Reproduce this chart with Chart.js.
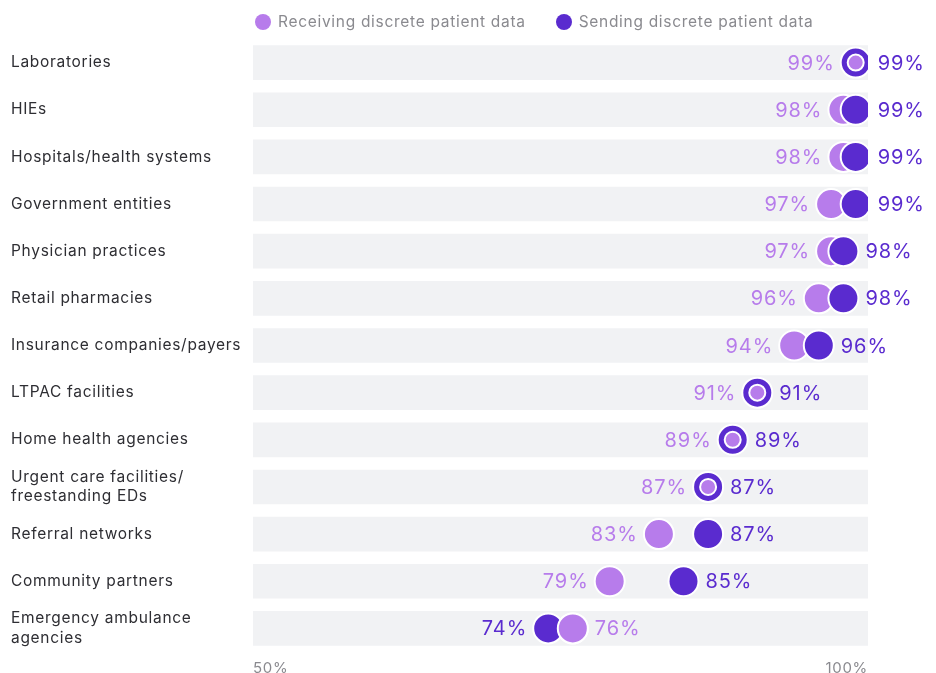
<!DOCTYPE html>
<html>
<head>
<meta charset="utf-8">
<script src="https://cdn.jsdelivr.net/npm/chart.js@4/dist/chart.umd.min.js"></script>
<style>
  body { margin: 0; background: #fff; font-family: Inter, sans-serif; }
  #wrap { position: relative; width: 936px; height: 673px; }
  #legend { position: absolute; top: 12px; left: 255px; display: flex; gap: 30px; font-size: 15.5px; letter-spacing: 0.7px; color: #8a8a8f; }
  #legend span { display: flex; align-items: center; }
  #legend i { width: 16px; height: 16px; border-radius: 50%; display: inline-block; margin-right: 7px; }
</style>
</head>
<body>
<div id="wrap">
  <canvas id="chart"></canvas>
  <div id="legend"></div>
</div>
<script>
// Share of organisations exchanging discrete patient data, by partner type
const categories = [
  'Laboratories',
  'HIEs',
  'Hospitals/health systems',
  'Government entities',
  'Physician practices',
  'Retail pharmacies',
  'Insurance companies/payers',
  'LTPAC facilities',
  'Home health agencies',
  ['Urgent care facilities/', 'freestanding EDs'],
  'Referral networks',
  'Community partners',
  ['Emergency ambulance', 'agencies']
]
const receiving = [99, 98, 98, 97, 97, 96, 94, 91, 89, 87, 83, 79, 76]
const sending = [99, 99, 99, 99, 98, 98, 96, 91, 89, 87, 87, 85, 74]
const axisMin = 50
const axisMax = 100

const LIGHT = '#b77ceb'
const DARK = '#5a2bcf'
const FONT = 'Inter, sans-serif'

// HTML legend
const legend = document.getElementById('legend')
;[['Receiving discrete patient data', LIGHT], ['Sending discrete patient data', DARK]].forEach(([text, color]) => {
  const s = document.createElement('span')
  s.innerHTML = `<i style="background:${color}"></i>${text}`
  legend.appendChild(s)
})

// a little tracking on all canvas text
const tracking = {
  id: 'tracking',
  beforeDraw(chart) {
    chart.ctx.letterSpacing = '0.7px'
  }
}

// Value labels and draw-order fix for overlapping circles
const valueLabels = {
  id: 'valueLabels',
  afterDatasetsDraw(chart) {
    const ctx = chart.ctx
    const x = chart.scales.x
    const recMeta = chart.getDatasetMeta(1)
    ctx.save()
    // when receiving sits at or right of sending, put it on top
    receiving.forEach((r, i) => {
      if (r >= sending[i]) recMeta.data[i].draw(ctx)
    })
    ctx.font = `400 20px ${FONT}`
    ctx.letterSpacing = '0.9px'
    ctx.textBaseline = 'middle'
    categories.forEach((c, i) => {
      const y = recMeta.data[i].y
      const r = receiving[i], s = sending[i]
      const left = Math.min(r, s), right = Math.max(r, s)
      const leftIsRec = r <= s
      const lx = x.getPixelForValue(left) - 15 - 6
      const rx = x.getPixelForValue(right) + 15 + 7
      ctx.textAlign = 'right'
      ctx.fillStyle = leftIsRec ? LIGHT : DARK
      ctx.fillText((leftIsRec ? r : s) + '%', lx, y + 1)
      ctx.textAlign = 'left'
      ctx.fillStyle = leftIsRec ? DARK : LIGHT
      ctx.fillText((leftIsRec ? s : r) + '%', rx, y + 1)
    })
    ctx.restore()
  }
}

new Chart(document.getElementById('chart'), {
  type: 'bar',
  data: {
    labels: categories,
    datasets: [
      {
        label: 'track',
        data: categories.map(() => [axisMin, axisMax]),
        backgroundColor: '#f1f2f4',
        barThickness: 34,
        order: 3
      },
      {
        type: 'line',
        label: 'Receiving discrete patient data',
        data: receiving,
        showLine: false,
        pointBackgroundColor: LIGHT,
        pointBorderColor: '#fff',
        pointBorderWidth: 2,
        pointRadius: ctx => receiving[ctx.dataIndex] === sending[ctx.dataIndex] ? 8 : 15,
        order: 2
      },
      {
        type: 'line',
        label: 'Sending discrete patient data',
        data: sending,
        showLine: false,
        pointBackgroundColor: DARK,
        pointBorderColor: '#fff',
        pointBorderWidth: 2,
        pointRadius: 15,
        order: 1
      }
    ]
  },
  options: {
    indexAxis: 'y',
    responsive: true,
    maintainAspectRatio: false,
    animation: false,
    events: [],
    layout: { padding: { top: 39, left: 11, right: 68, bottom: 0 } },
    plugins: {
      legend: { display: false },
      tooltip: { enabled: false }
    },
    scales: {
      x: {
        min: axisMin,
        max: axisMax,
        grid: { display: false, drawTicks: false },
        border: { display: false },
        ticks: {
          stepSize: 50,
          align: 'inner',
          padding: 7,
          color: '#8a8a8f',
          font: { family: FONT, size: 15 },
          callback: v => v + '%'
        },
        afterFit: scale => { scale.height = 21 }
      },
      y: {
        grid: { display: false, drawTicks: false },
        border: { display: false },
        ticks: {
          crossAlign: 'far',
          padding: 0,
          color: '#2e2e33',
          font: { family: FONT, size: 15.5, lineHeight: 1.25 }
        },
        afterFit: scale => { scale.width = 242 }
      }
    }
  },
  plugins: [tracking, valueLabels]
})
</script>
</body>
</html>
